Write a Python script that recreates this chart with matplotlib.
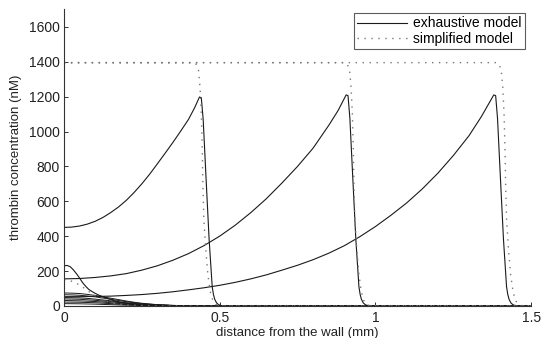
import matplotlib
matplotlib.use("Agg")
import matplotlib.pyplot as plt

plt.rcParams['font.family'] = ['Liberation Sans', 'DejaVu Sans']

# ---- exhaustive model: travelling fronts (distance in mm, thrombin in nM) ----
front1_x = [0.0, 0.025, 0.05, 0.075, 0.1, 0.125, 0.15, 0.175, 0.2, 0.225,
            0.25, 0.275, 0.3, 0.325, 0.35, 0.375, 0.4, 0.42, 0.435, 0.441,
            0.447, 0.456, 0.466, 0.476, 0.48, 0.484, 0.49, 0.497, 0.505,
            0.52, 1.5]
front1_y = [450, 452, 458, 469, 485, 507, 535, 567, 605, 650,
            700, 755, 815, 876, 938, 1003, 1070, 1138, 1198, 1194,
            1069, 740, 383, 109, 65, 38, 17, 6, 2,
            0, 0]

front2_x = [0.0, 0.05, 0.1, 0.15, 0.2, 0.25, 0.3, 0.35, 0.4, 0.45, 0.5,
            0.55, 0.6, 0.65, 0.7, 0.75, 0.8, 0.85, 0.88, 0.906, 0.912,
            0.918, 0.927, 0.937, 0.947, 0.951, 0.955, 0.961, 0.968, 0.976,
            0.99, 1.5]
front2_y = [155, 157, 163, 172, 185, 205, 230, 262, 300, 346, 400,
            463, 535, 615, 705, 800, 905, 1035, 1120, 1210, 1206,
            1075, 745, 385, 110, 65, 38, 17, 6, 2,
            0, 0]

front3_x = [0.0, 0.05, 0.1, 0.15, 0.2, 0.25, 0.3, 0.35, 0.4, 0.45, 0.5,
            0.55, 0.6, 0.65, 0.7, 0.75, 0.8, 0.85, 0.9, 0.95, 1.0, 1.05,
            1.1, 1.15, 1.2, 1.25, 1.3, 1.34, 1.38, 1.386, 1.392, 1.401,
            1.411, 1.421, 1.425, 1.429, 1.435, 1.442, 1.45, 1.465, 1.5]
front3_y = [53, 53, 54, 56, 60, 65, 72, 81, 92, 104, 118,
            135, 155, 178, 205, 233, 265, 302, 345, 397, 455, 520,
            590, 670, 760, 862, 975, 1085, 1210, 1206, 1075, 745,
            385, 110, 65, 38, 17, 6, 2, 0, 0]

# early-time profiles near the wall
bell_x = [0.0, 0.01, 0.02, 0.03, 0.04, 0.05, 0.06, 0.07, 0.08, 0.095, 0.11,
          0.127, 0.145, 0.16, 0.18, 0.2, 0.225, 0.25, 0.3, 0.35, 0.4, 0.5, 1.5]
bell_y = [230, 232, 225, 207, 185, 160, 133, 112, 94, 77, 63,
          51, 40, 30, 22, 15, 10, 7, 3, 1.5, 0.5, 0, 0]

early_x = [0.0, 0.025, 0.05, 0.075, 0.1, 0.125, 0.15, 0.175, 0.2, 0.225,
           0.25, 0.3, 0.35, 0.4, 0.5, 1.5]
early_a = [74, 73, 71, 66, 60, 52, 44, 36, 28, 21, 15, 7, 3, 1, 0, 0]
early_b = [64, 63, 61, 57, 52, 45, 38, 31, 24, 18, 13, 6, 2.5, 1, 0, 0]
early_c = [48, 47, 46, 43, 39, 34, 29, 23, 18, 14, 10, 5, 2, 1, 0, 0]
early_d = [40, 39, 38, 35, 32, 28, 24, 19, 15, 11, 8, 4, 2, 1, 0, 0]
early_e = [31, 30, 29, 27, 25, 22, 18, 14, 11, 8, 6, 3, 1, 0.5, 0, 0]
early_f = [22, 21.5, 21, 19.5, 18, 15.5, 13, 10, 8, 6, 4, 2, 1, 0.3, 0, 0]
early_g = [13, 12.5, 12, 11, 10, 8.5, 7, 5.5, 4, 3, 2, 1, 0.5, 0, 0, 0]

# ---- simplified model ----
simp1_x = [0.0, 0.418, 0.425, 0.432, 0.437, 0.441, 0.444, 0.446, 0.449,
           0.455, 0.462, 0.47, 0.478, 0.487, 0.5, 1.5]
simp1_y = [1395, 1395, 1385, 1350, 1250, 1100, 900, 700, 500,
           330, 180, 80, 30, 8, 0, 0]

simp2_x = [0.0, 0.903, 0.91, 0.917, 0.922, 0.926, 0.929, 0.931, 0.934,
           0.940, 0.947, 0.955, 0.963, 0.972, 0.985, 1.5]
simp2_y = [1395, 1395, 1385, 1350, 1250, 1100, 900, 700, 500,
           330, 180, 80, 30, 8, 0, 0]

simp3_x = [0.0, 1.390, 1.397, 1.404, 1.409, 1.413, 1.416, 1.418, 1.421,
           1.427, 1.434, 1.442, 1.450, 1.459, 1.472, 1.5]
simp3_y = [1395, 1395, 1385, 1350, 1250, 1100, 900, 700, 500,
           330, 180, 80, 30, 8, 0, 0]

simp0_x = [0.0, 0.02, 0.04, 0.06, 0.08, 0.1, 0.12, 0.15, 0.2, 0.3, 1.5]
simp0_y = [150, 145, 130, 108, 82, 58, 38, 18, 5, 0, 0]

x_ticks = [0, 0.5, 1, 1.5]
x_tick_labels = ['0', '0.5', '1', '1.5']
y_ticks = [0, 200, 400, 600, 800, 1000, 1200, 1400, 1600]

fig = plt.figure(figsize=(5.42, 3.38), dpi=100)
ax = fig.add_axes([0.118, 0.095, 0.862, 0.877])

solid_kw = dict(color='#1a1a1a', lw=0.8)
thin_kw = dict(color='#1a1a1a', lw=0.7)
dot_kw = dict(color='#777777', lw=1.0, linestyle=(0, (1, 4)))

line_ex, = ax.plot(front1_x, front1_y, **solid_kw)
ax.plot(front2_x, front2_y, **solid_kw)
ax.plot(front3_x, front3_y, **solid_kw)
ax.plot(bell_x, bell_y, **solid_kw)
for ys in (early_a, early_b, early_c, early_d, early_e, early_f, early_g):
    ax.plot(early_x, ys, **thin_kw)

line_si, = ax.plot(simp1_x, simp1_y, **dot_kw)
ax.plot(simp2_x, simp2_y, **dot_kw)
ax.plot(simp3_x, simp3_y, **dot_kw)
ax.plot(simp0_x, simp0_y, **dot_kw)

ax.set_xlim(0, 1.5)
ax.set_ylim(0, 1700)
ax.set_xticks(x_ticks)
ax.set_xticklabels(x_tick_labels)
ax.set_yticks(y_ticks)

for side in ('top', 'right'):
    ax.spines[side].set_visible(False)
for side in ('left', 'bottom'):
    ax.spines[side].set_color('#333333')
    ax.spines[side].set_linewidth(0.8)

ax.tick_params(direction='in', length=3, width=0.7, colors='#333333',
               labelsize=10, labelcolor='#222222')
ax.tick_params(axis='x', pad=4)
ax.tick_params(axis='y', pad=3)

ax.set_xlabel('distance from the wall (mm)', fontsize=9.5, color='#222222',
              labelpad=1)
ax.set_ylabel('thrombin concentration (nM)', fontsize=9.5, color='#222222',
              labelpad=5)

leg = ax.legend([line_ex, line_si], ['exhaustive model', 'simplified model'],
                loc='upper right', bbox_to_anchor=(525 / 542, 1 - 13 / 338),
                bbox_transform=fig.transFigure, borderaxespad=0,
                fontsize=10, handlelength=3.6, handletextpad=0.4,
                borderpad=0.25, labelspacing=0.1, fancybox=False,
                frameon=True, edgecolor='#333333')
leg.get_frame().set_linewidth(0.8)

fig.savefig('out.png', dpi=100)
